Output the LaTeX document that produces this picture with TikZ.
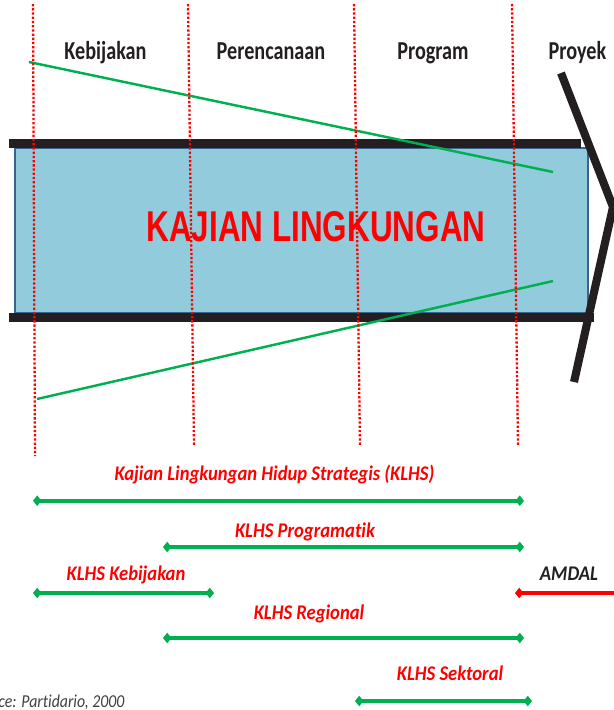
\documentclass[tikz,border=0pt]{standalone}
\usepackage{fontspec}
\setmainfont{Carlito}[Ligatures={NoCommon}]
\newfontfamily\titlefont{Liberation Sans}
\usetikzlibrary{arrows.meta}

\definecolor{boxblue}{HTML}{92CBDC}
\definecolor{edgeblue}{HTML}{3B6390}
\definecolor{linegreen}{HTML}{00B050}
\definecolor{darkink}{HTML}{231F20}
\definecolor{srcgray}{HTML}{404040}

\newcommand{\tallbox}[2]{\scalebox{1}[#1]{#2}}

\begin{document}
\begin{tikzpicture}[x=0.02cm,y=-0.02cm,
    phase/.style={anchor=base,inner sep=0pt,text=darkink,font=\bfseries\fontsize{11.5}{12}\selectfont},
    scope label/.style={anchor=base,inner sep=0pt,text=red,font=\bfseries\itshape\fontsize{10.6}{12}\selectfont},
    divider/.style={red,line width=1.3pt,dash pattern=on 1.3pt off 1.1pt},
    bar/.style={darkink,line width=5.1pt},
    timeline/.style={linegreen,line width=2.5pt,{Diamond[length=4.8pt,width=6pt]}-{Diamond[length=4.8pt,width=6pt]}}]

    \clip (0,0) rectangle (614,710);

    % main box
    \draw[fill=boxblue,draw=edgeblue,line width=1.3pt] (15,148) rectangle (588,313);
    \draw[bar] (9,143.5) -- (581,143.5);
    \draw[bar] (9,317.5) -- (594,317.5);
    \node[anchor=base,inner sep=0pt,text=red,font=\titlefont\bfseries\fontsize{17.9}{20}\selectfont] (title) at (316,241.7) {\tallbox{1.37}{KAJIAN LINGKUNGAN}};

    % funnel lines
    \draw[linegreen,line width=1.4pt] (29,62) -- (553,172);
    \draw[linegreen,line width=1.4pt] (37,399) -- (553,281);

    % phase dividers
    \draw[divider] (33,4) -- (35,456);
    \draw[divider] (188,4) -- (194,445);
    \draw[divider] (354,4) -- (360,445);
    \draw[divider] (512,4) -- (518,445);

    % project chevron
    \draw[darkink,line width=4.6pt,miter limit=20] (561,73) -- (613,207) -- (574,382);

    % phases
    \node[phase] (kebijakan) at (105.5,59) {\tallbox{1.28}{Kebijakan}};
    \node[phase] (perencanaan) at (271,59) {\tallbox{1.28}{Perencanaan}};
    \node[phase] (program) at (433,59) {\tallbox{1.28}{Program}};
    \node[phase] (proyek) at (577.5,59) {\tallbox{1.28}{Proyek}};

    % assessment scopes
    \coordinate (klhsL) at (33,500.7);
    \coordinate (klhsR) at (524,500.7);
    \coordinate (progL) at (163,547);
    \coordinate (progR) at (524,547);
    \coordinate (kebL) at (33,593);
    \coordinate (kebR) at (214,593);
    \coordinate (amdalL) at (515,593);
    \coordinate (amdalR) at (640,593);
    \coordinate (regL) at (163,638);
    \coordinate (regR) at (524,638);
    \coordinate (sekL) at (355,701);
    \coordinate (sekR) at (532,701);

    \draw[timeline] (klhsL) -- (klhsR);
    \draw[timeline] (progL) -- (progR);
    \draw[timeline] (kebL) -- (kebR);
    \draw[timeline,red] (amdalL) -- (amdalR);
    \draw[timeline] (regL) -- (regR);
    \draw[timeline] (sekL) -- (sekR);

    \node[scope label] (klhs) at (274.5,480.7) {\tallbox{1.12}{Kajian Lingkungan Hidup Strategis (KLHS)}};
    \node[scope label] (programatik) at (305,537) {\tallbox{1.12}{KLHS Programatik}};
    \node[scope label] (kebijakanKLHS) at (126,580.7) {\tallbox{1.12}{KLHS Kebijakan}};
    \node[scope label,text=darkink] (amdal) at (569,580.5) {\tallbox{1.12}{AMDAL}};
    \node[scope label] (regional) at (309,619) {\tallbox{1.12}{KLHS Regional}};
    \node[scope label] (sektoral) at (450,680.7) {\tallbox{1.12}{KLHS Sektoral}};

    \node[anchor=base west,inner sep=0pt,text=srcgray,font=\itshape\fontsize{9}{10}\selectfont] (source) at (-2,707) {\tallbox{1.15}{ce: Partidario, 2000}};
\end{tikzpicture}
\end{document}
